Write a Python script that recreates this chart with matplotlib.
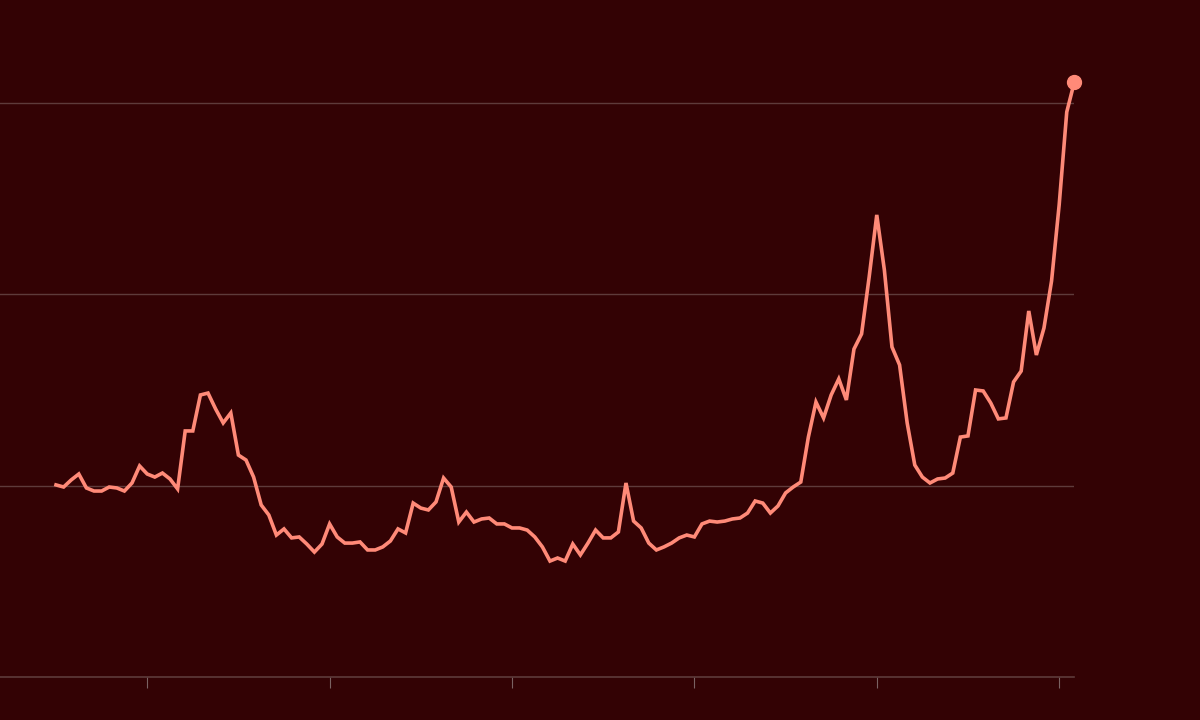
import numpy as np
import matplotlib
matplotlib.use("Agg")
import matplotlib.pyplot as plt

# semi-monthly readings (grid at 0 / 100 / 200 / 300)
values = [
    100.4, 99.3, 103.0, 106.1, 98.8, 97.2, 97.2, 99.3, 98.8, 97.2,
    101.4, 110.3, 106.1, 104.5, 106.6, 103.5, 98.3, 128.6, 128.6, 147.4,
    148.4, 140.1, 132.8, 138.0, 116.0, 113.4, 104.5, 89.9, 84.7, 74.2,
    77.4, 72.7, 73.2, 69.5, 65.3, 69.5, 80.0, 73.2, 70.0, 70.0,
    70.6, 66.4, 66.4, 68.0, 71.1, 77.4, 75.3, 90.9, 88.3, 87.3,
    91.5, 104.0, 99.3, 81.0, 86.2, 81.0, 82.6, 83.1, 80.0, 80.0,
    77.9, 77.9, 76.8, 73.2, 68.0, 60.6, 62.2, 60.6, 69.5, 63.8,
    70.0, 76.8, 72.7, 72.7, 75.8, 101.4, 81.5, 77.9, 70.0, 66.4,
    68.0, 70.0, 72.7, 74.2, 73.2, 80.0, 81.5, 81.0, 81.5, 82.6,
    83.1, 85.7, 92.0, 90.9, 85.7, 89.4, 96.2, 99.3, 101.9, 125.4,
    143.7, 135.4, 147.4, 155.8, 144.8, 171.4, 179.3, 209.1, 241.5, 212.7,
    172.5, 163.1, 132.8, 110.8, 104.5, 101.4, 103.5, 104.0, 106.6, 125.4,
    126.0, 150.0, 149.5, 143.2, 134.9, 135.4, 154.2, 159.9, 191.3, 168.3,
    182.4, 207.0, 246.7, 295.3, 311.0,
]
grid_values = [100, 200, 300]
tick_positions = [12, 36, 60, 84, 108, 132]

BG = "#330204"
LINE = "#ff8a78"
GRID = "#5e3b3b"

x = np.arange(len(values))

fig = plt.figure(figsize=(12, 7.2), dpi=100, facecolor=BG)
ax = fig.add_axes([0.0, 0.0597, 0.8953, 0.877])
ax.set_facecolor(BG)

ax.plot(x, values, color=LINE, lw=2.6, solid_joinstyle="miter", zorder=3)
ax.plot(x[-1], values[-1], "o", color=LINE, ms=10, clip_on=False, zorder=4)

for g in grid_values:
    ax.axhline(g, color=GRID, lw=1, zorder=1)

ax.set_xlim(-7.37, len(values) - 1)
ax.set_ylim(0, 330)

for s in ["top", "right", "left"]:
    ax.spines[s].set_visible(False)
ax.spines["bottom"].set_color(GRID)
ax.spines["bottom"].set_linewidth(1.2)

ax.set_xticks(tick_positions)
ax.set_xticklabels([])
ax.tick_params(axis="x", length=8, width=0.8, color="#7a6262", direction="out")
ax.set_yticks([])

fig.savefig("out.png", dpi=100, facecolor=BG)
